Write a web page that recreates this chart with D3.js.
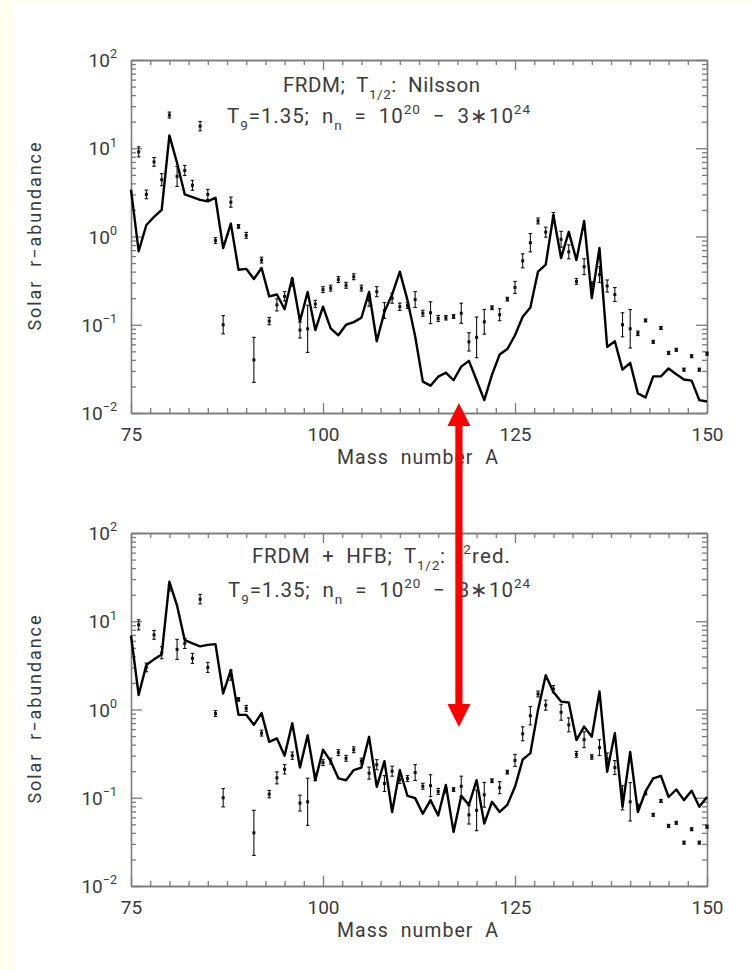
<!DOCTYPE html>
<html>
<head>
<meta charset="utf-8">
<script src="https://cdn.jsdelivr.net/npm/d3@7"></script>
<style>
  body { margin: 0; background: #fff; }
  text { font-family: "Roboto", "Liberation Sans", sans-serif; font-weight: 400; fill: #3a3a3a; white-space: pre; }
</style>
</head>
<body>
<svg id="chart" width="753" height="970"></svg>
<script>
// Mass numbers A of the calculated curves
const massNumbers = [75,76,77,78,79,80,81,82,83,84,85,86,87,88,89,90,91,92,93,94,95,96,97,98,99,
  100,101,102,103,104,105,106,107,108,109,110,111,112,113,114,115,116,117,118,119,120,121,122,123,124,
  125,126,127,128,129,130,131,132,133,134,135,136,137,138,139,140,141,142,143,144,145,146,147,148,149,150];

// Calculated abundances: FRDM masses, Nilsson half-lives
const frdmNilsson = [3.4,0.68,1.35,1.67,2.0,14,6.8,3.0,2.8,2.6,2.5,2.75,0.74,1.4,0.42,0.43,0.33,0.44,0.21,0.22,
  0.15,0.34,0.11,0.235,0.087,0.16,0.091,0.076,0.10,0.107,0.12,0.235,0.065,0.14,0.22,0.40,0.19,0.074,0.0227,0.0204,
  0.0258,0.0286,0.0235,0.0335,0.039,0.0235,0.014,0.027,0.046,0.053,0.076,0.123,0.157,0.40,0.48,1.74,0.57,1.13,0.54,1.5,
  0.2,0.74,0.056,0.065,0.031,0.037,0.0167,0.015,0.026,0.026,0.032,0.0275,0.024,0.0233,0.014,0.0135];

// Calculated abundances: FRDM + HFB masses, chi^2-reduced half-lives
const frdmHfb = [6.9,1.46,3.2,3.7,4.2,28,15,6.1,5.6,5.2,5.4,5.5,1.52,2.8,0.87,0.87,0.67,0.91,0.43,0.47,
  0.30,0.70,0.22,0.51,0.158,0.35,0.26,0.166,0.158,0.206,0.22,0.49,0.133,0.26,0.069,0.206,0.105,0.099,0.066,0.094,
  0.063,0.14,0.041,0.105,0.083,0.158,0.051,0.09,0.069,0.083,0.133,0.27,0.32,0.99,2.45,1.58,1.23,1.2,0.45,0.64,
  0.49,1.6,0.197,0.54,0.079,0.33,0.069,0.118,0.166,0.177,0.102,0.124,0.094,0.12,0.079,0.102];

// Solar r-process abundances with their uncertainty (multiplicative factor)
const solarA = [76,77,78,79,80,81,82,83,84,85,86,87,88,89,90,91,92,93,94,95,96,97,98,99,100,
  101,102,103,104,105,106,107,108,109,110,111,112,113,114,115,116,117,118,119,120,121,122,123,124,125,
  126,127,128,129,130,131,132,133,134,135,136,137,138,139,140,141,142,143,144,145,146,147,148,149,150];
const solarAbund = [9.1,3.0,7.0,4.4,23.8,4.8,5.6,3.8,17.8,3.0,0.9,0.1,2.45,1.3,1.03,0.04,0.54,0.11,0.168,0.21,
  0.30,0.087,0.09,0.172,0.25,0.26,0.325,0.28,0.35,0.26,0.19,0.237,0.145,0.2,0.16,0.165,0.193,0.135,0.137,0.118,
  0.12,0.124,0.135,0.064,0.072,0.108,0.156,0.13,0.195,0.265,0.53,0.85,1.5,1.12,1.7,0.93,0.67,0.31,0.455,0.29,
  0.37,0.275,0.22,0.1,0.09,0.08,0.112,0.064,0.092,0.048,0.052,0.031,0.044,0.031,0.047];
const solarErr = [1.14,1.12,1.12,1.17,1.08,1.3,1.14,1.14,1.13,1.14,1.08,1.27,1.14,1.05,1.08,1.8,1.08,1.1,1.17,1.13,
  1.1,1.23,1.85,1.1,1.08,1.08,1.08,1.08,1.08,1.08,1.17,1.14,1.23,1.14,1.1,1.08,1.23,1.08,1.33,1.08,
  1.06,1.05,1.3,1.27,1.7,1.38,1.05,1.17,1.05,1.17,1.2,1.27,1.08,1.14,1.1,1.23,1.2,1.08,1.23,1.06,
  1.23,1.17,1.2,1.37,1.65,1.06,1.04,1.04,1.04,1.04,1.04,1.04,1.04,1.04,1.04];

const xMajorTicks = [75, 100, 125, 150];
const decades = [-2, -1, 0, 1, 2];

const W = 753, H = 970;
const svg = d3.select("#chart");
svg.append("rect").attr("width", W).attr("height", H).attr("fill", "#fffff0");
svg.append("rect").attr("x", 14).attr("y", 3).attr("width", W - 14).attr("height", H - 3).attr("fill", "#ffffff");

const x = d3.scaleLinear().domain([75, 150]).range([131, 707]);
const axisColor = "#7a7a7a";

const xMinor = d3.range(75, 150.01, 2.5).filter(v => !xMajorTicks.includes(v));
const yMinor = [];
for (let k = -2; k < 2; k++) for (let m = 2; m <= 9; m++) yMinor.push(m * Math.pow(10, k));
const yMajor = decades.map(k => Math.pow(10, k));

// text with sub/superscript runs; optional total width
function richText(g, px, py, parts, size, anchor, width) {
  const t = g.append("text").attr("x", px).attr("y", py)
    .attr("font-size", size).attr("text-anchor", anchor || "start");
  let shift = 0;
  parts.forEach(p => {
    const s = t.append("tspan").text(p.t);
    let target = 0, fs = p.fs || size;
    if (p.k === "sup") { target = -size * 0.45; fs = size * 0.66; }
    if (p.k === "sub") { target = size * 0.32; fs = size * 0.66; }
    s.attr("font-size", fs).attr("dy", target - shift);
    shift = target;
  });
  if (width) t.attr("textLength", width).attr("lengthAdjust", "spacing");
  return t;
}

function styleAxis(sel) {
  sel.select(".domain").attr("stroke", axisColor).attr("stroke-width", 1.3);
  sel.selectAll(".tick line").attr("stroke", axisColor).attr("stroke-width", 1.3);
  sel.selectAll(".tick text").attr("fill", "#3a3a3a")
    .style("font-family", "Roboto, 'Liberation Sans', sans-serif").style("font-weight", 400);
}

function drawPanel(top, model, titles) {
  const bottom = top + 353;
  const y = d3.scaleLog().domain([0.01, 100]).range([bottom, top]);
  const g = svg.append("g");

  // axes: inward ticks on all four sides
  g.append("g").attr("transform", `translate(0,${bottom})`)
    .call(d3.axisBottom(x).tickValues(xMinor).tickSize(-5).tickSizeOuter(0).tickFormat(""))
    .call(styleAxis);
  g.append("g").attr("transform", `translate(0,${bottom})`)
    .call(d3.axisBottom(x).tickValues(xMajorTicks).tickSize(-10).tickSizeOuter(0)
      .tickPadding(15).tickFormat(d3.format("d")))
    .call(styleAxis)
    .call(a => a.selectAll(".tick text").attr("font-size", 19));
  g.append("g").attr("transform", `translate(0,${top})`)
    .call(d3.axisTop(x).tickValues(xMinor).tickSize(-5).tickSizeOuter(0).tickFormat(""))
    .call(styleAxis);
  g.append("g").attr("transform", `translate(0,${top})`)
    .call(d3.axisTop(x).tickValues(xMajorTicks).tickSize(-10).tickSizeOuter(0).tickFormat(""))
    .call(styleAxis);
  g.append("g").attr("transform", `translate(131,0)`)
    .call(d3.axisLeft(y).tickValues(yMinor).tickSize(-5).tickSizeOuter(0).tickFormat(""))
    .call(styleAxis);
  g.append("g").attr("transform", `translate(131,0)`)
    .call(d3.axisLeft(y).tickValues(yMajor).tickSize(-11).tickSizeOuter(0).tickFormat(""))
    .call(styleAxis);
  g.append("g").attr("transform", `translate(707,0)`)
    .call(d3.axisRight(y).tickValues(yMinor).tickSize(-5).tickSizeOuter(0).tickFormat(""))
    .call(styleAxis);
  g.append("g").attr("transform", `translate(707,0)`)
    .call(d3.axisRight(y).tickValues(yMajor).tickSize(-11).tickSizeOuter(0).tickFormat(""))
    .call(styleAxis);

  // decade labels 10^k
  decades.forEach(k => {
    richText(g, 117, y(Math.pow(10, k)) + 7,
      [{ t: "10" }, { t: k < 0 ? "\u2212" + (-k) : String(k), k: "sup" }], 19, "end");
  });

  // axis titles
  g.append("text").attr("x", 337).attr("y", bottom + 51)
    .attr("font-size", 19.5).attr("textLength", 161).attr("lengthAdjust", "spacing")
    .text("Mass  number  A");
  g.append("text").attr("transform", `translate(41,${(top + bottom) / 2 + 94}) rotate(-90)`)
    .attr("font-size", 18).attr("textLength", 188).attr("lengthAdjust", "spacing")
    .text("Solar  r\u2212abundance");

  // panel annotations
  titles.forEach(tl => richText(g, tl.x, tl.y + top, tl.parts, 20.5, "start", tl.w));

  // solar r-abundances with error bars
  const pts = g.append("g").attr("stroke", "#111").attr("stroke-width", 1.1);
  solarA.forEach((a, i) => {
    const v = solarAbund[i], f = solarErr[i];
    const cx = x(a), y1 = y(v * f), y2 = y(v / f);
    pts.append("line").attr("x1", cx).attr("x2", cx).attr("y1", y1).attr("y2", y2);
    pts.append("line").attr("x1", cx - 1.8).attr("x2", cx + 1.8).attr("y1", y1).attr("y2", y1);
    pts.append("line").attr("x1", cx - 1.8).attr("x2", cx + 1.8).attr("y1", y2).attr("y2", y2);
    pts.append("rect").attr("x", cx - 1.5).attr("y", y(v) - 1.5).attr("width", 3).attr("height", 3)
      .attr("fill", "#111").attr("stroke", "none");
  });

  // calculated abundance curve
  const line = d3.line().x((d, i) => x(massNumbers[i])).y(d => y(d));
  g.append("path").datum(model).attr("d", line)
    .attr("fill", "none").attr("stroke", "#000").attr("stroke-width", 2.4)
    .attr("stroke-linejoin", "round");
  return y;
}

const densityLine = [{ t: "T" }, { t: "9", k: "sub" }, { t: "=1.35;  n" }, { t: "n", k: "sub" },
  { t: "  =  10" }, { t: "20", k: "sup" }, { t: "  \u2212  3\u221710" }, { t: "24", k: "sup" }];

drawPanel(60, frdmNilsson, [
  { x: 283, y: 32, w: 197, parts: [{ t: "FRDM;  T" }, { t: "1/2", k: "sub" }, { t: ":  Nilsson" }] },
  { x: 227, y: 63, w: 303, parts: densityLine }
]);
drawPanel(533, frdmHfb, [
  { x: 252, y: 30, w: 193, parts: [{ t: "FRDM  +  HFB;  T" }, { t: "1/2", k: "sub" }, { t: ":" }] },
  { x: 455, y: 30, w: 55, parts: [{ t: "\u03c7", fs: 13 }, { t: "2", k: "sup" }, { t: "red." }] },
  { x: 228, y: 64, w: 302, parts: densityLine }
]);

// double-headed red arrow linking the two panels at A ~ 118
const ax = x(117.7), yA = 403, yB = 727, hw = 11.5, hl = 23, sw = 3.6;
svg.append("path")
  .attr("d", `M${ax},${yA} L${ax + hw},${yA + hl} L${ax + sw},${yA + hl} L${ax + sw},${yB - hl}
    L${ax + hw},${yB - hl} L${ax},${yB} L${ax - hw},${yB - hl} L${ax - sw},${yB - hl}
    L${ax - sw},${yA + hl} L${ax - hw},${yA + hl} Z`)
  .attr("fill", "#ff0000");
</script>
</body>
</html>
